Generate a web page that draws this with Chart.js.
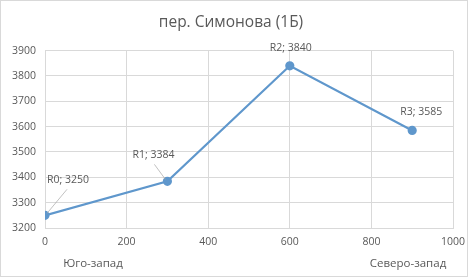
<!DOCTYPE html>
<html lang="ru">
<head>
  <meta charset="UTF-8" />
  <title>пер. Симонова (1Б)</title>
  <script src="https://cdn.jsdelivr.net/npm/chart.js"></script>
  <style>
    html, body { margin: 0; padding: 0; background: #fff; }
    .chart-box { position: relative; width: 466px; height: 275px; border: 1px solid #d9d9d9; }
  </style>
</head>
<body>
  <div class="chart-box">
    <canvas id="grafico"></canvas>
  </div>

  <script>
    const titulo = 'пер. Симонова (1Б)';
    const pontos = ['R0', 'R1', 'R2', 'R3'];
    const distancias = [0, 300, 600, 900];
    const valores = [3250, 3384, 3840, 3585];
    const legendasEixoX = ['Юго-запад', 'Северо-запад'];

    // deslocamento dos rótulos em relação ao ponto (px)
    const deslocRotulos = [
      { dx: 23, dy: -35, guia: true },
      { dx: -14, dy: -26, guia: true },
      { dx: 1, dy: -18, guia: false },
      { dx: 9, dy: -18, guia: false }
    ];

    const corTexto = '#595959';
    const corLinha = '#5f97cc';
    const fonte = '"Open Sans", "Noto Sans", sans-serif';

    const rotulosPlugin = {
      id: 'rotulos',
      afterDatasetsDraw(chart) {
        const ctx = chart.ctx;
        const meta = chart.getDatasetMeta(0);
        ctx.save();
        ctx.font = '10.5px ' + fonte;
        ctx.fillStyle = corTexto;
        ctx.textAlign = 'center';
        ctx.textBaseline = 'middle';
        for (let i = 0; i < meta.data.length; i++) {
          const p = meta.data[i];
          const d = deslocRotulos[i];
          const tx = p.x + d.dx;
          const ty = p.y + d.dy;
          if (d.guia) {
            ctx.strokeStyle = '#a6a6a6';
            ctx.lineWidth = 0.7;
            ctx.beginPath();
            ctx.moveTo(p.x + Math.sign(d.dx) * 2, p.y - 2);
            ctx.lineTo(tx - (d.dx > 0 ? 1 : -1), ty + 9);
            ctx.stroke();
          }
          ctx.fillText(pontos[i] + '; ' + valores[i], tx, ty);
        }
        ctx.restore();
      },
      afterDraw(chart) {
        const ctx = chart.ctx;
        const area = chart.chartArea;
        ctx.save();
        ctx.font = '11.5px ' + fonte;
        ctx.fillStyle = corTexto;
        ctx.textAlign = 'center';
        ctx.textBaseline = 'middle';
        ctx.fillText(legendasEixoX[0], area.left + 48, area.bottom + 36);
        ctx.fillText(legendasEixoX[1], area.right - 45, area.bottom + 36);
        ctx.restore();
      }
    };

    new Chart(document.getElementById('grafico').getContext('2d'), {
      type: 'scatter',
      data: {
        datasets: [{
          label: titulo,
          data: distancias.map((x, i) => ({ x: x, y: valores[i] })),
          showLine: true,
          borderColor: corLinha,
          backgroundColor: corLinha,
          borderWidth: 2.2,
          pointRadius: 3.5,
          pointHoverRadius: 3.5
        }]
      },
      options: {
        responsive: true,
        maintainAspectRatio: false,
        animation: false,
        layout: { padding: { left: 8, right: 14, top: 0, bottom: 28 } },
        plugins: {
          legend: { display: false },
          tooltip: { enabled: false },
          title: {
            display: true,
            text: titulo,
            color: corTexto,
            font: { family: fonte, size: 15.5, weight: 'normal' },
            padding: { top: 12, bottom: 19 }
          }
        },
        scales: {
          x: {
            type: 'linear',
            min: 0,
            max: 1000,
            ticks: { stepSize: 200, color: corTexto, font: { family: fonte, size: 10.5 }, padding: 8,
              callback: v => String(v) },
            grid: { color: '#d9d9d9', drawTicks: false },
            border: { color: '#d9d9d9' },
            afterFit(scale) { scale.height = 20; scale.paddingRight = 0; scale.paddingLeft = 0; }
          },
          y: {
            min: 3200,
            max: 3900,
            ticks: { stepSize: 100, color: corTexto, font: { family: fonte, size: 10.5 }, padding: 9,
              callback: v => String(v) },
            grid: { color: '#d9d9d9', drawTicks: false },
            border: { color: '#d9d9d9' },
            afterFit(scale) { scale.width = 36; }
          }
        }
      },
      plugins: [rotulosPlugin]
    });
  </script>
</body>
</html>
